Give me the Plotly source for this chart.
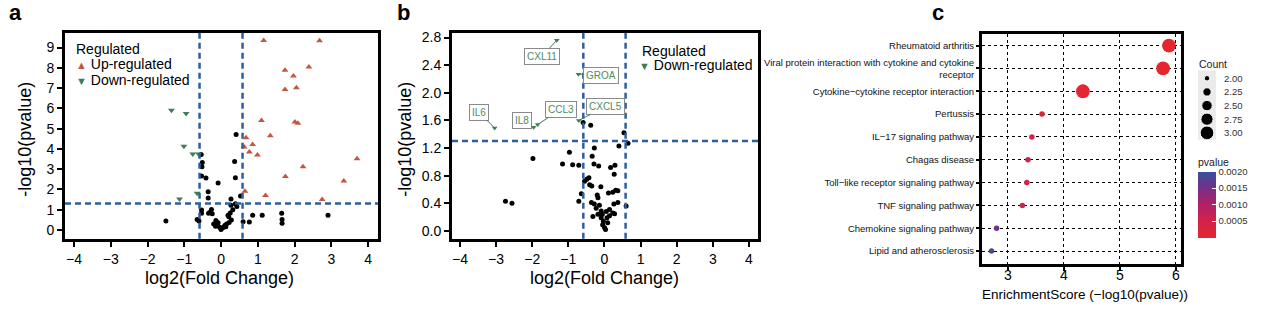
import plotly.graph_objects as go

W, H = 1268, 334
FONT = "Arial, Liberation Sans, sans-serif"

# ---------------- Panel a data ----------------
a_up_x = [1.16, 2.68, 2.39, 1.74, 1.97, 1.74, 2.05, 1.10, 2.01, 2.09, 0.68, 1.34,
          0.86, 0.63, 0.77, 0.99, 3.70, 2.23, 1.75, 3.34, 0.65, 1.21, 2.75]
a_up_y = [9.35, 9.33, 8.04, 7.88, 7.60, 6.93, 7.01, 5.40, 5.32, 5.27, 4.55, 4.65,
          4.21, 4.09, 3.85, 3.70, 3.51, 3.12, 2.64, 2.41, 1.91, 1.70, 1.50]
a_down_x = [-1.35, -0.95, -1.01, -0.77, -0.61, -0.65, -1.13]
a_down_y = [5.91, 5.74, 4.13, 3.75, 3.75, 1.81, 1.53]
a_ns_x = [0.41, -0.54, -0.51, -0.52, 0.37, -0.53, -0.41, 0.39, -0.08, -0.35, -0.35,
          0.53, 0.27, 0.39, 0.27, 0.43, -0.53, -0.53, -0.26, -0.31, -0.24, 0.32,
          0.25, 0.19, -0.65, -0.60, -0.14, -0.20, -0.11, -0.15, -0.04, 0.00, 0.03,
          0.07, 0.13, 0.15, 0.22, 0.28, 0.21, -1.50, 0.60, 0.77, 0.86, 1.12, 1.65,
          1.66, 1.66, 2.91, -0.34, 0.10, -0.08]
a_ns_y = [4.71, 3.72, 3.33, 3.12, 3.38, 2.66, 2.56, 2.58, 2.32, 1.89, 1.57,
          1.68, 1.53, 1.29, 1.22, 1.16, 0.98, 0.82, 1.01, 0.86, 0.80, 1.00,
          0.83, 0.73, 0.51, 0.44, 0.46, 0.29, 0.29, 0.18, 0.13, 0.02, 0.10,
          0.13, 0.16, 0.29, 0.37, 0.49, 0.65, 0.44, 0.41, 0.39, 0.72, 0.73, 0.82,
          0.52, 0.33, 0.72, 0.82, 0.22, 0.35]

# ---------------- Panel b data ----------------
b_genes = ["CXL11", "GROA", "IL6", "IL8", "CCL3", "CXCL5"]
b_down_x = [-1.32, -0.72, -3.04, -1.96, -1.85, -0.71]
b_down_y = [2.76, 2.27, 1.49, 1.50, 1.54, 1.60]
b_ns_x = [-0.42, -0.59, -0.38, 0.54, 0.65, 0.40, -0.28, -0.97, -1.98, -0.34, -1.16,
          -0.88, -0.71, -0.29, -0.16, 0.17, 0.29, 0.27, -0.49, -0.43, -0.55, -0.41,
          -0.35, -0.10, 0.31, 0.37, 0.23, -0.64, 0.11, -0.20, -0.18, -0.71, 0.60,
          -2.74, -2.56, -0.36, -0.28, -0.14, 0.26, 0.37, -0.23, -0.09, 0.05, 0.14,
          0.23, -0.32, -0.18, -0.09, -0.03, -0.05, 0.00, 0.03, 0.09, 0.07, 0.14,
          0.28, -0.06]
b_ns_y = [2.17, 1.57, 1.53, 1.42, 1.27, 1.23, 1.20, 1.14, 1.05, 1.08, 0.97,
          0.96, 0.95, 0.97, 0.94, 0.92, 0.95, 0.82, 0.75, 0.77, 0.72, 0.67,
          0.65, 0.64, 0.59, 0.58, 0.56, 0.54, 0.55, 0.52, 0.48, 0.43, 0.36,
          0.43, 0.40, 0.41, 0.39, 0.37, 0.39, 0.41, 0.33, 0.29, 0.28, 0.31,
          0.26, 0.21, 0.24, 0.19, 0.14, 0.09, 0.05, 0.02, 0.12, 0.19, 0.22,
          0.25, 0.24]
# label offsets (px) for gene labels
b_label_dx = [-15, 23, -16, -12, 23, 27]
b_label_dy = [16, 1, -16, -7, -15, -14]

# thresholds
fc_cut = 0.585   # log2(1.5)
p_cut = 1.301    # -log10(0.05)

# ---------------- Panel c data ----------------
terms = ["Rheumatoid arthritis",
         "Viral protein interaction with cytokine and cytokine<br>receptor",
         "Cytokine\u2212cytokine receptor interaction",
         "Pertussis",
         "IL\u221217 signaling pathway",
         "Chagas disease",
         "Toll\u2212like receptor signaling pathway",
         "TNF signaling pathway",
         "Chemokine signaling pathway",
         "Lipid and atherosclerosis"]
enrich = [5.875, 5.77, 4.34, 3.61, 3.43, 3.36, 3.34, 3.26, 2.80, 2.71]
counts = [3, 3, 3, 2, 2, 2, 2, 2, 2, 2]
pvalues = [1.3e-6, 1.7e-6, 4.6e-5, 2.45e-4, 3.7e-4, 4.4e-4, 4.6e-4, 5.5e-4, 1.58e-3, 1.95e-3]
count_levels = [2.00, 2.25, 2.50, 2.75, 3.00]
pv_ticks = [0.0005, 0.0010, 0.0015, 0.0020]


def size_px(c):
    t = (c - 2.0) / 1.0
    return (30 + (190 - 30) * t) ** 0.5


def px2x(px):
    return px / W


def px2y(py):
    return 1 - py / H


RED = "#C4553F"
GREEN = "#3E7D55"
DASH = "#2E5E9C"
cscale = [[0, "#E5262E"], [0.3, "#CF2150"], [0.55, "#A8216C"], [0.8, "#6A358C"], [1, "#3A4F9D"]]

fig = go.Figure()

# Panel a traces
fig.add_trace(go.Scatter(x=a_ns_x, y=a_ns_y, mode="markers", xaxis="x", yaxis="y",
                         marker=dict(color="black", size=5), showlegend=False))
fig.add_trace(go.Scatter(x=a_up_x, y=a_up_y, mode="markers", xaxis="x", yaxis="y",
                         marker=dict(color=RED, size=6, symbol="triangle-up"), showlegend=False))
fig.add_trace(go.Scatter(x=a_down_x, y=a_down_y, mode="markers", xaxis="x", yaxis="y",
                         marker=dict(color=GREEN, size=6, symbol="triangle-down"), showlegend=False))

# Panel b traces
fig.add_trace(go.Scatter(x=b_ns_x, y=b_ns_y, mode="markers", xaxis="x2", yaxis="y2",
                         marker=dict(color="black", size=5), showlegend=False))
fig.add_trace(go.Scatter(x=b_down_x, y=b_down_y, mode="markers", xaxis="x2", yaxis="y2",
                         marker=dict(color=GREEN, size=5, symbol="triangle-down"), showlegend=False))

# Panel c trace
fig.add_trace(go.Scatter(
    x=enrich, y=terms, mode="markers", xaxis="x3", yaxis="y3", showlegend=False,
    marker=dict(size=[size_px(c) for c in counts], color=pvalues, colorscale=cscale,
                cmin=0, cmax=0.002, opacity=1, line=dict(width=0),
                colorbar=dict(x=px2x(1198), xanchor="left", y=px2y(153), yanchor="top",
                              len=83, lenmode="pixels", thickness=18, thicknessmode="pixels",
                              xpad=0, ypad=0, outlinewidth=0, ticks="inside",
                              tickcolor="white", ticklen=4, tickwidth=1,
                              tickvals=pv_ticks, ticktext=["%.4f" % v for v in pv_ticks],
                              tickfont=dict(size=9.5, color="#333", family=FONT),
                              title=dict(text="pvalue", side="top",
                                         font=dict(size=10.5, color="#222", family=FONT))))))

# Count legend (size key)
fig.add_trace(go.Scatter(x=[0] * len(count_levels), y=count_levels, mode="markers",
                         xaxis="x4", yaxis="y4", showlegend=False,
                         marker=dict(color="black", opacity=1,
                                     size=[size_px(c) for c in count_levels])))

axis_common = dict(showline=True, linewidth=3, linecolor="black", mirror=True,
                   ticks="outside", ticklen=5, tickwidth=2, tickcolor="black",
                   showgrid=False, zeroline=False,
                   tickfont=dict(size=14, color="black", family=FONT))

ya_dom = [px2y(238), px2y(30)]
fig.update_layout(
    width=W, height=H, margin=dict(l=0, r=0, t=0, b=0),
    paper_bgcolor="white", plot_bgcolor="rgba(0,0,0,0)",
    font=dict(family=FONT, color="black"),
    xaxis=dict(domain=[px2x(65), px2x(378)], range=[-4.245, 4.27], tickvals=list(range(-4, 5)),
               anchor="y", **axis_common),
    yaxis=dict(domain=ya_dom, range=[-0.44, 9.73], tickvals=list(range(0, 10)),
               anchor="x", **axis_common),
    xaxis2=dict(domain=[px2x(452), px2x(758)], range=[-4.22, 4.25], tickvals=list(range(-4, 5)),
                anchor="y2", **axis_common),
    yaxis2=dict(domain=ya_dom, range=[-0.115, 2.87], tickvals=[0, 0.4, 0.8, 1.2, 1.6, 2.0, 2.4, 2.8],
                tickformat=".1f", anchor="x2", **axis_common),
    xaxis3=dict(domain=[px2x(982), px2x(1181)], range=[2.54, 6.09], tickvals=[3, 4, 5, 6],
                anchor="y3", showline=True, linewidth=3, linecolor="black", mirror=True,
                ticks="outside", ticklen=4, tickwidth=1.5, tickcolor="black",
                ticklabelstandoff=-7,
                showgrid=True, gridcolor="black", griddash="dot", gridwidth=1, zeroline=False,
                tickfont=dict(size=14, color="black", family=FONT)),
    yaxis3=dict(domain=[px2y(263), px2y(31)], type="category", categoryorder="array",
                categoryarray=terms[::-1], range=[-0.55, 9.52], anchor="x3",
                showline=True, linewidth=3, linecolor="black", mirror=True,
                ticks="outside", ticklen=3, tickwidth=1.5, tickcolor="black",
                showgrid=True, gridcolor="black", griddash="dot", gridwidth=1,
                tickfont=dict(size=9.5, color="#111", family=FONT)),
    xaxis4=dict(domain=[px2x(1198), px2x(1216)], range=[-1, 1], visible=False, anchor="y4"),
    yaxis4=dict(domain=[px2y(138), px2y(68)], range=[3.127, 1.855], visible=False, anchor="x4"),
)

# threshold lines
shapes = []
for xr, yr in [("x", "y"), ("x2", "y2")]:
    for xv in (-fc_cut, fc_cut):
        shapes.append(dict(type="line", xref=xr, yref=yr + " domain", x0=xv, x1=xv, y0=0, y1=1,
                           line=dict(color=DASH, width=2.5, dash="6px,4px")))
    shapes.append(dict(type="line", xref=xr + " domain", yref=yr, x0=0, x1=1, y0=p_cut, y1=p_cut,
                       line=dict(color=DASH, width=2.5, dash="6px,4px")))
shapes.append(dict(type="rect", xref="x4 domain", yref="y4 domain", x0=0, x1=1, y0=0, y1=1,
                   fillcolor="#EBEBEB", line=dict(width=0), layer="below"))
fig.update_layout(shapes=shapes)

ann = []


def txt(x, y, s, size, xanchor="center", yanchor="middle", angle=0, bold=False, color="black"):
    ann.append(dict(x=px2x(x), y=px2y(y), xref="paper", yref="paper", text=("<b>%s</b>" % s) if bold else s,
                    showarrow=False, xanchor=xanchor, yanchor=yanchor, textangle=angle,
                    font=dict(size=size, color=color, family=FONT)))


# panel labels
txt(15, 10, "a", 22, bold=True)
txt(403, 10, "b", 22, bold=True)
txt(938, 10, "c", 22, bold=True)

# axis titles
txt(219, 277, "log2(Fold Change)", 18)
txt(25, 138, "-log10(pvalue)", 18, angle=-90)
txt(604, 277, "log2(Fold Change)", 18)
txt(405, 138, "-log10(pvalue)", 18, angle=-90)
txt(1085, 294, "EnrichmentScore (\u2212log10(pvalue))", 13.5)

# panel a legend
txt(74, 46, "Regulated", 14, xanchor="left")
txt(74, 62, "<span style='color:%s;font-size:11px'>\u25b2</span> Up-regulated" % RED, 14, xanchor="left")
txt(74, 78, "<span style='color:%s;font-size:11px'>\u25bc</span> Down-regulated" % GREEN, 14, xanchor="left")
# panel b legend
txt(640, 48, "Regulated", 14, xanchor="left")
txt(637, 63, "<span style='color:%s;font-size:11px'>\u25bc</span> Down-regulated" % GREEN, 14, xanchor="left")

# count legend
txt(1197, 62, "Count", 10.5, xanchor="left", color="#222")
for c in count_levels:
    ann.append(dict(x=px2x(1222), y=c, xref="paper", yref="y4", text="%.2f" % c, showarrow=False,
                    xanchor="left", yanchor="middle", font=dict(size=9.5, color="#333", family=FONT)))

# gene labels in panel b
for g, x, y, dx, dy in zip(b_genes, b_down_x, b_down_y, b_label_dx, b_label_dy):
    ann.append(dict(x=x, y=y, xref="x2", yref="y2", text=g, showarrow=True, arrowhead=0,
                    arrowwidth=1, arrowcolor=GREEN, ax=dx, ay=dy, standoff=0,
                    bordercolor="#8A8A8A", borderwidth=1, borderpad=2, bgcolor="white",
                    font=dict(size=10, color="#4F8A5F", family=FONT)))

fig.update_layout(annotations=ann)

fig.write_html("out.html")
